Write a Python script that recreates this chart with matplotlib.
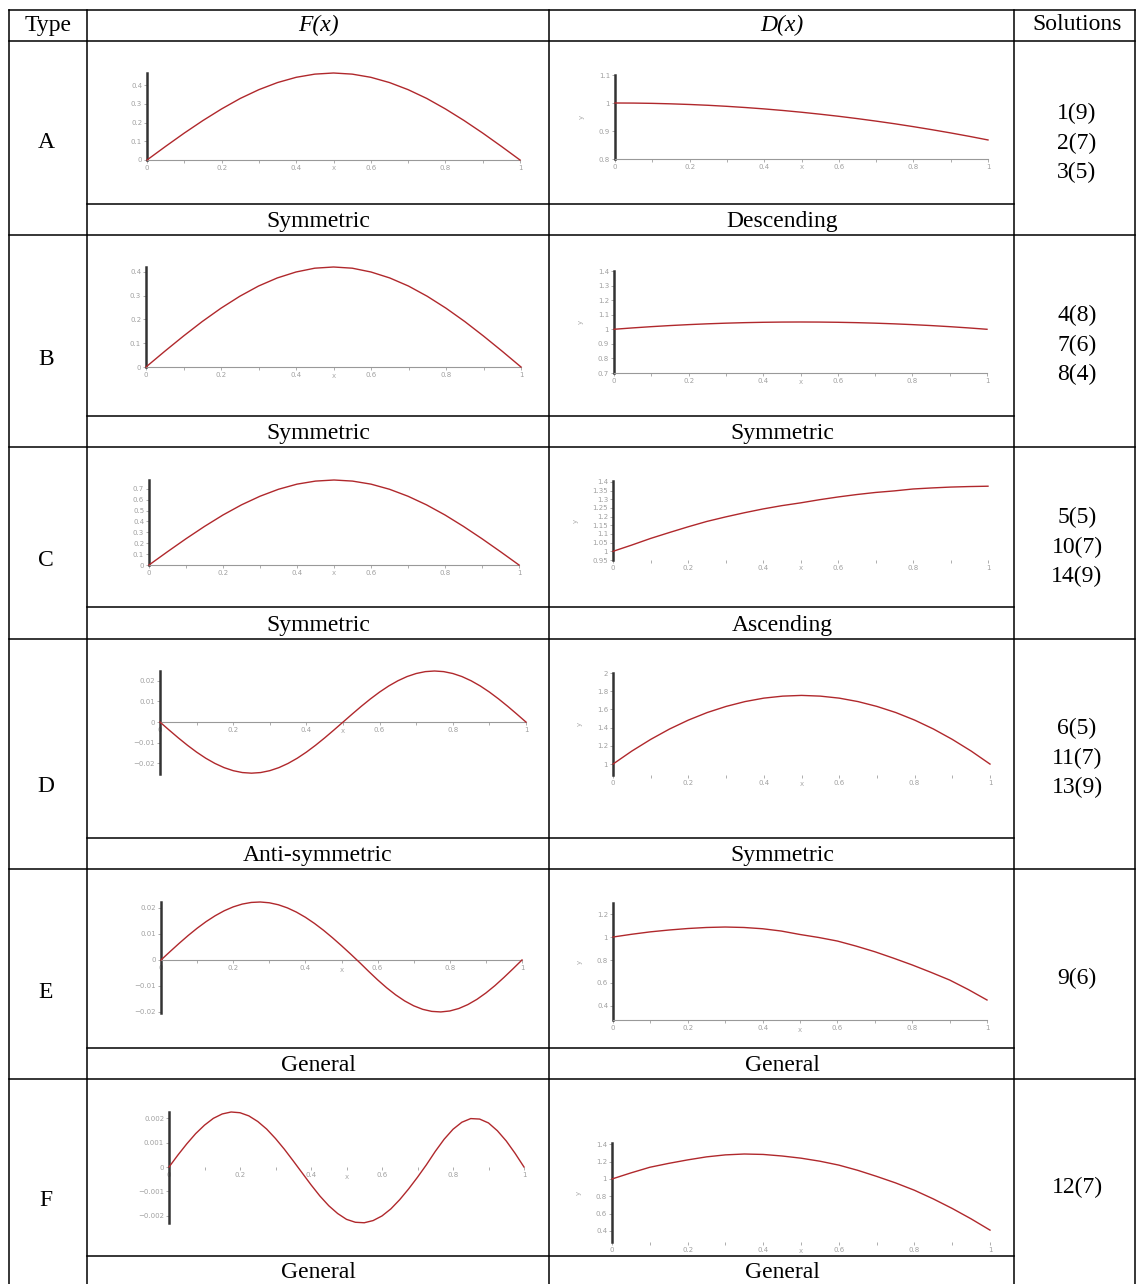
import numpy as np
import matplotlib
matplotlib.use('Agg')
import matplotlib.pyplot as plt
from matplotlib.lines import Line2D
from matplotlib.ticker import MultipleLocator

# --- data ---
X = [0.0, 0.05, 0.1, 0.15, 0.2, 0.25, 0.3, 0.35, 0.4, 0.45, 0.5,
     0.55, 0.6, 0.65, 0.7, 0.75, 0.8, 0.85, 0.9, 0.95, 1.0]
X2 = [0.0, 0.025, 0.05, 0.075, 0.1, 0.125, 0.15, 0.175, 0.2, 0.225, 0.25,
      0.275, 0.3, 0.325, 0.35, 0.375, 0.4, 0.425, 0.45, 0.475, 0.5,
      0.525, 0.55, 0.575, 0.6, 0.625, 0.65, 0.675, 0.7, 0.725, 0.75,
      0.775, 0.8, 0.825, 0.85, 0.875, 0.9, 0.925, 0.95, 0.975, 1.0]

F_A = [0, .073, .144, .211, .273, .329, .376, .414, .442, .459, .465,
       .459, .442, .414, .376, .329, .273, .211, .144, .073, 0]
D_A = [1.0, .9997, .9987, .997, .9947, .9918, .9881, .9838, .9789, .9733, .967,
       .960, .9525, .9442, .9353, .9258, .9155, .9046, .8931, .8809, .868]

F_B = [0, .066, .130, .191, .247, .297, .340, .374, .399, .415, .42,
       .415, .399, .374, .340, .297, .247, .191, .130, .066, 0]
D_B = [1.0, 1.0095, 1.018, 1.0255, 1.032, 1.0375, 1.042, 1.0455, 1.048, 1.0495, 1.05,
       1.0495, 1.048, 1.0455, 1.042, 1.0375, 1.032, 1.0255, 1.018, 1.0095, 1.0]

F_C = [0, .122, .241, .354, .459, .552, .631, .695, .742, .770, .78,
       .770, .742, .695, .631, .552, .459, .354, .241, .122, 0]
D_C = [1.0, 1.036, 1.074, 1.108, 1.141, 1.172, 1.198, 1.222, 1.244, 1.263, 1.279,
       1.297, 1.313, 1.327, 1.339, 1.348, 1.359, 1.365, 1.370, 1.373, 1.375]

F_D = [0, -.00386, -.00763, -.01121, -.01452, -.01747, -.01998, -.02201, -.02349, -.02440, -.0247,
       -.02440, -.02349, -.02201, -.01998, -.01747, -.01452, -.01121, -.00763, -.00386, 0,
       .00386, .00763, .01121, .01452, .01747, .01998, .02201, .02349, .02440, .0247,
       .02440, .02349, .02201, .01998, .01747, .01452, .01121, .00763, .00386, 0]
D_D = [1.0, 1.143, 1.271, 1.385, 1.483, 1.566, 1.633, 1.686, 1.724, 1.746, 1.754,
       1.746, 1.724, 1.686, 1.633, 1.566, 1.483, 1.385, 1.271, 1.143, 1.0]

F_E = [0, .00321, .00636, .00938, .01220, .01476, .01701, .01892, .02042, .02150, .02213,
       .02230, .02200, .02124, .02004, .01842, .01642, .01407, .01144, .00855, .00549,
       .00231, -.00096, -.00436, -.00764, -.01069, -.01342, -.01576, -.01763, -.01899, -.01978,
       -.01999, -.01962, -.01867, -.01716, -.01516, -.01270, -.00987, -.00672, -.00341, 0]
D_E = [1.0, 1.024, 1.045, 1.061, 1.074, 1.083, 1.087, 1.083, 1.072, 1.052, 1.022,
       .996, .965, .921, .872, .816, .757, .693, .626, .543, .452]

F_F = [0, .00049, .00095, .00137, .00172, .00200, .00218, .00226, .00223, .00210, .00187,
       .00156, .00117, .00073, .00025, -.00024, -.00073, -.00119, -.00159, -.00191, -.00215,
       -.00227, -.00229, -.00220, -.00201, -.00172, -.00134, -.00090, -.00042, .00009, .00064,
       .00114, .00155, .00184, .00199, .00197, .00181, .00149, .00107, .00056, 0]
D_F = [1.0, 1.07, 1.135, 1.18, 1.22, 1.255, 1.278, 1.288, 1.283, 1.265, 1.24,
       1.205, 1.16, 1.10, 1.03, .955, .87, .77, .66, .54, .41]

TYPES = ['A', 'B', 'C', 'D', 'E', 'F']
F_SHAPE = ['Symmetric', 'Symmetric', 'Symmetric', 'Anti-symmetric', 'General', 'General']
D_SHAPE = ['Descending', 'Symmetric', 'Ascending', 'Symmetric', 'General', 'General']
SOLUTIONS = [['1(9)', '2(7)', '3(5)'], ['4(8)', '7(6)', '8(4)'], ['5(5)', '10(7)', '14(9)'],
             ['6(5)', '11(7)', '13(9)'], ['9(6)'], ['12(7)']]

F_TICKS = [[0, .1, .2, .3, .4], [0, .1, .2, .3, .4], [0, .1, .2, .3, .4, .5, .6, .7],
           [-.02, -.01, 0, .01, .02], [-.02, -.01, 0, .01, .02], [-.002, -.001, 0, .001, .002]]
D_TICKS = [[.8, .9, 1.0, 1.1], [.7, .8, .9, 1.0, 1.1, 1.2, 1.3, 1.4],
           [.95, 1.0, 1.05, 1.1, 1.15, 1.2, 1.25, 1.3, 1.35, 1.4],
           [1, 1.2, 1.4, 1.6, 1.8, 2], [.4, .6, .8, 1.0, 1.2], [.4, .6, .8, 1.0, 1.2, 1.4]]
F_YLIM = [(0, .465), (0, .42), (0, .78), (-.0251, .0247), (-.0204, .0223), (-.0023, .00226)]
D_YLIM = [(.8, 1.1), (.7, 1.4), (.95, 1.405), (.88, 2.0), (.278, 1.296), (.273, 1.415)]

F_DATA = [(X, F_A), (X, F_B), (X, F_C), (X2, F_D), (X2, F_E), (X2, F_F)]
D_DATA = [(X, D_A), (X, D_B), (X, D_C), (X, D_D), (X, D_E), (X, D_F)]

# --- layout (pixels) ---
W, H = 1136, 1284
F_BOX = [(147, 520, 73, 160), (146, 521, 267, 367), (149, 519, 480, 565),
         (160, 526, 671, 774), (161, 522, 902, 1013), (169, 524, 1112, 1223)]
D_BOX = [(615, 988, 75, 159), (614, 987, 271, 373), (613, 988, 481, 560),
         (613, 990, 673, 775), (613, 987, 903, 1020), (612, 990, 1143, 1242)]
F_XAXIS = [True, True, True, True, True, False]
D_XAXIS = [True, True, False, False, True, False]
ROW_BOT = [235, 447, 639, 869, 1079, 1284]
CAP_LINE = [204, 416, 607, 838, 1048, 1256]
TYPE_Y = [140, 356, 558, 784, 990, 1198]
SOL_Y = [140, 342, 544, 755, 975, 1184]
COL_X = [9, 87, 549, 1014, 1135]

CURVE = '#b0282c'
SERIF = 'Liberation Serif'

fig = plt.figure(figsize=(W / 100, H / 100), dpi=100)
fig.patch.set_facecolor('white')


def hline(y, x0, x1):
    fig.add_artist(Line2D([x0 / W, x1 / W], [1 - y / H, 1 - y / H],
                          color='black', lw=1.1, transform=fig.transFigure))


def vline(x, y0, y1):
    fig.add_artist(Line2D([x / W, x / W], [1 - y0 / H, 1 - y1 / H],
                          color='black', lw=1.1, transform=fig.transFigure))


def text(x, y, s, **kw):
    # small shift so the glyphs sit where they do in the scan
    fig.text(x / W, 1 - (y + 3) / H, s, ha='center', va='center',
             family=SERIF, fontsize=17, **kw)


def small_plot(box, xs, ys, ylim, yticks, xaxis_on, ylabel):
    x0, x1, yt, yb = box
    ax = fig.add_axes([x0 / W, 1 - yb / H, (x1 - x0) / W, (yb - yt) / H])
    ax.patch.set_alpha(0)
    ax.plot(xs, ys, color=CURVE, lw=1.0, clip_on=False, zorder=3)
    ax.set_xlim(0, 1)
    ax.set_ylim(*ylim)
    for s in ['top', 'right']:
        ax.spines[s].set_visible(False)
    ax.spines['left'].set_color('#333333')
    ax.spines['left'].set_linewidth(1.8)
    cross = 0 if ylim[0] < 0 else ylim[0]
    ax.spines['bottom'].set_position(('data', cross))
    ax.spines['bottom'].set_color('#999999')
    ax.spines['bottom'].set_linewidth(0.8)
    ax.spines['bottom'].set_visible(xaxis_on)
    ax.set_xticks([0, .2, .4, .6, .8, 1])
    ax.set_xticklabels(['0', '0.2', '0.4', '0.6', '0.8', '1'])
    ax.xaxis.set_minor_locator(MultipleLocator(0.1))
    ax.set_yticks(yticks)
    ax.set_yticklabels([('%g' % v).replace('-', '\u2212') for v in yticks])
    ax.tick_params(axis='both', which='both', colors='#a0a0a0', labelsize=5,
                   length=2, width=0.6, pad=1.5)
    ax.tick_params(axis='y', which='minor', length=1.5)
    ax.set_xlabel('x', fontsize=5, color='#aaaaaa', labelpad=0)
    ax.xaxis.set_label_coords(0.5, (cross - ylim[0]) / (ylim[1] - ylim[0]) - 0.06,
                              transform=ax.transAxes)
    ax.xaxis.label.set_va('top')
    if ylabel:
        ax.set_ylabel('y', fontsize=5, color='#aaaaaa', rotation=90, labelpad=10)
    return ax


for i in range(6):
    small_plot(F_BOX[i], F_DATA[i][0], F_DATA[i][1], F_YLIM[i], F_TICKS[i], F_XAXIS[i], False)
    small_plot(D_BOX[i], D_DATA[i][0], D_DATA[i][1], D_YLIM[i], D_TICKS[i], D_XAXIS[i], True)

# --- table grid ---
hline(10, COL_X[0], COL_X[-1])
hline(41, COL_X[0], COL_X[-1])
for yb in ROW_BOT[:-1]:
    hline(yb, COL_X[0], COL_X[-1])
for yc in CAP_LINE:
    hline(yc, COL_X[1], COL_X[3])
for xc in COL_X:
    vline(xc, 10, H)

# --- text ---
text(48, 22, 'Type')
text(318, 22, 'F(x)', fontstyle='italic')
text(782, 22, 'D(x)', fontstyle='italic')
text(1077, 22, 'Solutions')

for i in range(6):
    cap, bot = CAP_LINE[i], ROW_BOT[i]
    text(46, TYPE_Y[i], TYPES[i])
    cap_y = (cap + min(bot, 1288)) / 2 - 1
    text(318, cap_y, F_SHAPE[i])
    text(782, cap_y, D_SHAPE[i])
    sols = SOLUTIONS[i]
    n = len(sols)
    for k, s in enumerate(sols):
        text(1077, SOL_Y[i] + (k - (n - 1) / 2) * 29.5, s)

fig.savefig('out.png', dpi=100, facecolor='white')
